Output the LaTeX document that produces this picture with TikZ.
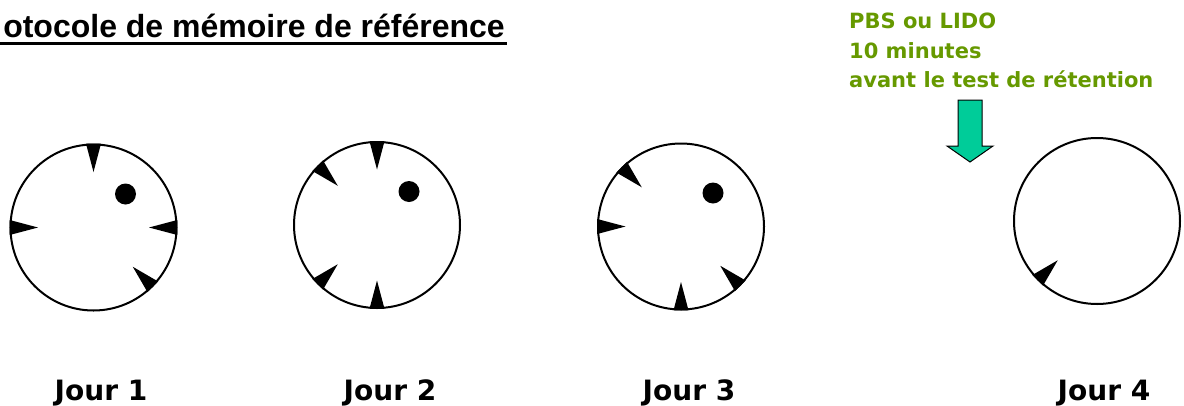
\documentclass[tikz,border=0pt]{standalone}
\usepackage{fontspec}
\setmainfont{DejaVu Sans}
\newfontfamily\arialfont{Liberation Sans}
\usetikzlibrary{calc}
\definecolor{txtgreen}{HTML}{669900}
\definecolor{arrowgreen}{HTML}{00CC99}
\newcommand\cue[2]{\fill ($(#1)+(#2:83.8)+(#2+90:7.5)$) -- ($(#1)+(#2:83.8)+(#2-90:7.5)$) -- ($(#1)+(#2:55.5)$) -- cycle;}
\begin{document}
\begin{tikzpicture}[x=1pt,y=-1pt,
  maze/.style={draw=black, line width=2pt, circle, minimum size=166pt, inner sep=0pt},
  platform/.style={fill=black, circle, minimum size=21pt, inner sep=0pt},
  daylabel/.style={font=\bfseries\fontsize{28}{33}\selectfont, anchor=base, inner sep=0pt},
  greentext/.style={font=\bfseries\fontsize{21}{25}\selectfont, text=txtgreen, anchor=base west, inner sep=0pt},
]
\useasboundingbox (0,0) rectangle (1184,405);
% title
\node[anchor=base east, inner sep=0pt, font=\arialfont\bfseries\fontsize{32}{38}\selectfont] (title) at (505,37) {otocole de mémoire de référence};
\draw[line width=3pt] ([yshift=-5.5pt,xshift=-10pt]title.south west) -- ([yshift=-5.5pt,xshift=2pt]title.south east);
% green text
\node[greentext] (g1) at (849,28.3) {PBS ou LIDO};
\node[greentext] (g2) at (849,58.3) {10 minutes};
\node[greentext] (g3) at (849,87.5) {avant le test de rétention};
% arrow
\draw[fill=arrowgreen, line width=1pt, line join=miter] (958,100) -- (982,100) -- (982,146) -- (993,146) -- (970,162) -- (947,146) -- (958,146) -- cycle;
% mazes
\node[maze] (m1) at (93.5,227.5) {};
\node[maze] (m2) at (377,225) {};
\node[maze] (m3) at (681,226.5) {};
\node[maze] (m4) at (1097,221) {};
% platforms
\node[platform] (p1) at ($(m1)+(32,-33.5)$) {};
\node[platform] (p2) at ($(m2)+(32,-33.5)$) {};
\node[platform] (p3) at ($(m3)+(32,-33.5)$) {};
% cues (angles: -90 top, 180 left, 0 right, 45 lower right, 135 lower left, -135 upper left)
\cue{m1}{-90}\cue{m1}{180}\cue{m1}{0}\cue{m1}{45}
\cue{m2}{-90}\cue{m2}{-135}\cue{m2}{135}\cue{m2}{90}
\cue{m3}{-135}\cue{m3}{180}\cue{m3}{90}\cue{m3}{45}
\cue{m4}{135}
% labels
\node[daylabel] (j1) at (101,400) {Jour 1};
\node[daylabel] (j2) at (390,400) {Jour 2};
\node[daylabel] (j3) at (689,400) {Jour 3};
\node[daylabel] (j4) at (1104,400) {Jour 4};
\end{tikzpicture}
\end{document}
